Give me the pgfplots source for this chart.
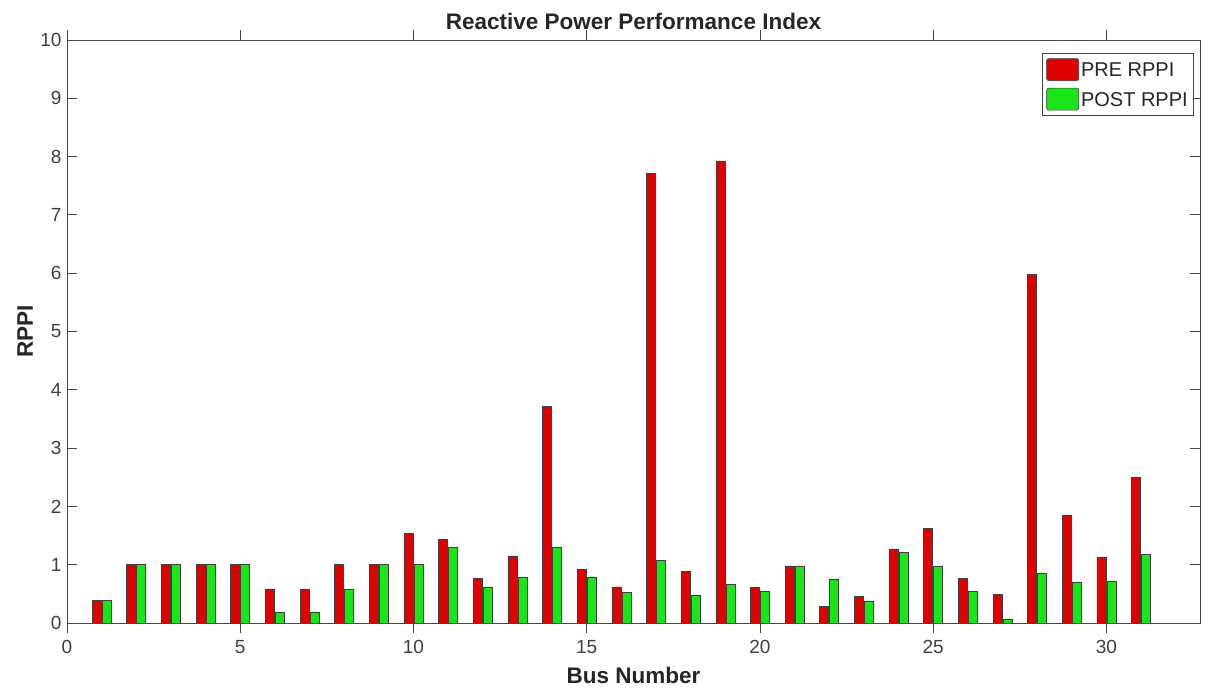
\documentclass[border=0pt]{standalone}
\usepackage{pgfplots}
\pgfplotsset{compat=1.18}
\usepackage{fontspec}
\setmainfont{Liberation Sans}
\definecolor{barred}{RGB}{225,0,0}
\definecolor{bargreen}{RGB}{25,230,25}
\definecolor{axgray}{RGB}{70,70,70}
\definecolor{txtgray}{RGB}{64,64,64}
\begin{document}
\begin{tikzpicture}
\begin{axis}[
  scale only axis,
  width=1133pt, height=583pt,
  xmin=0, xmax=32.7, ymin=0, ymax=10,
  xtick={0,5,10,15,20,25,30},
  ytick={0,1,2,3,4,5,6,7,8,9,10},
  ybar=1pt, bar width=9pt,
  axis on top,
  axis line style={axgray, line width=0.8pt},
  major tick length=10pt,
  tick style={axgray, line width=0.8pt},
  /pgf/number format/assume math mode=true,
  ticklabel style={font=\fontsize{19}{22}\selectfont, text=txtgray},
  xticklabel style={yshift=-4pt},
  yticklabel style={xshift=-2pt},
  title={\textbf{Reactive Power Performance Index}},
  title style={font=\fontsize{22.5}{26}\selectfont, text=black!85, at={(axis description cs:0.5,1.021)}, anchor=center},
  xlabel={\textbf{Bus Number}},
  xlabel style={font=\fontsize{22.5}{26}\selectfont, text=black!85, at={(axis description cs:0.5,-0.09)}, anchor=center},
  ylabel={\textbf{RPPI}},
  ylabel style={font=\fontsize{22.5}{26}\selectfont, text=black!85, at={(axis description cs:-0.037,0.5)}, anchor=center},
  legend image code/.code={\draw[#1, rounded corners=2pt] (0pt,-10pt) rectangle (32pt,12pt);},
  legend style={at={(axis description cs:1,1)}, anchor=north east, xshift=-6pt, yshift=-13pt,
    draw=axgray, line width=0.6pt, font=\fontsize{20}{24}\selectfont, text=black!85,
    row sep=7pt, inner xsep=4pt, inner ysep=5pt},
  legend cell align=left,
]
\addplot[fill=barred, draw=black!75, line width=0.6pt] coordinates {
(1,0.39) (2,1) (3,1) (4,1) (5,1) (6,0.58) (7,0.58) (8,1) (9,1) (10,1.53)
(11,1.43) (12,0.76) (13,1.15) (14,3.72) (15,0.92) (16,0.62) (17,7.71) (18,0.88) (19,7.92) (20,0.61)
(21,0.98) (22,0.28) (23,0.45) (24,1.26) (25,1.62) (26,0.77) (27,0.49) (28,5.98) (29,1.85) (30,1.13)
(31,2.50)
};
\addplot[fill=bargreen, draw=black!75, line width=0.6pt] coordinates {
(1,0.39) (2,1) (3,1) (4,1) (5,1) (6,0.19) (7,0.19) (8,0.58) (9,1) (10,1)
(11,1.29) (12,0.62) (13,0.78) (14,1.29) (15,0.78) (16,0.52) (17,1.07) (18,0.47) (19,0.67) (20,0.54)
(21,0.98) (22,0.75) (23,0.37) (24,1.21) (25,0.98) (26,0.54) (27,0.07) (28,0.86) (29,0.69) (30,0.71)
(31,1.17)
};
\legend{PRE RPPI, POST RPPI}
\end{axis}
\path ([shift={(-67pt,-67pt)}]current axis.south west) rectangle ([shift={(9pt,40pt)}]current axis.north east);
\end{tikzpicture}
\end{document}
